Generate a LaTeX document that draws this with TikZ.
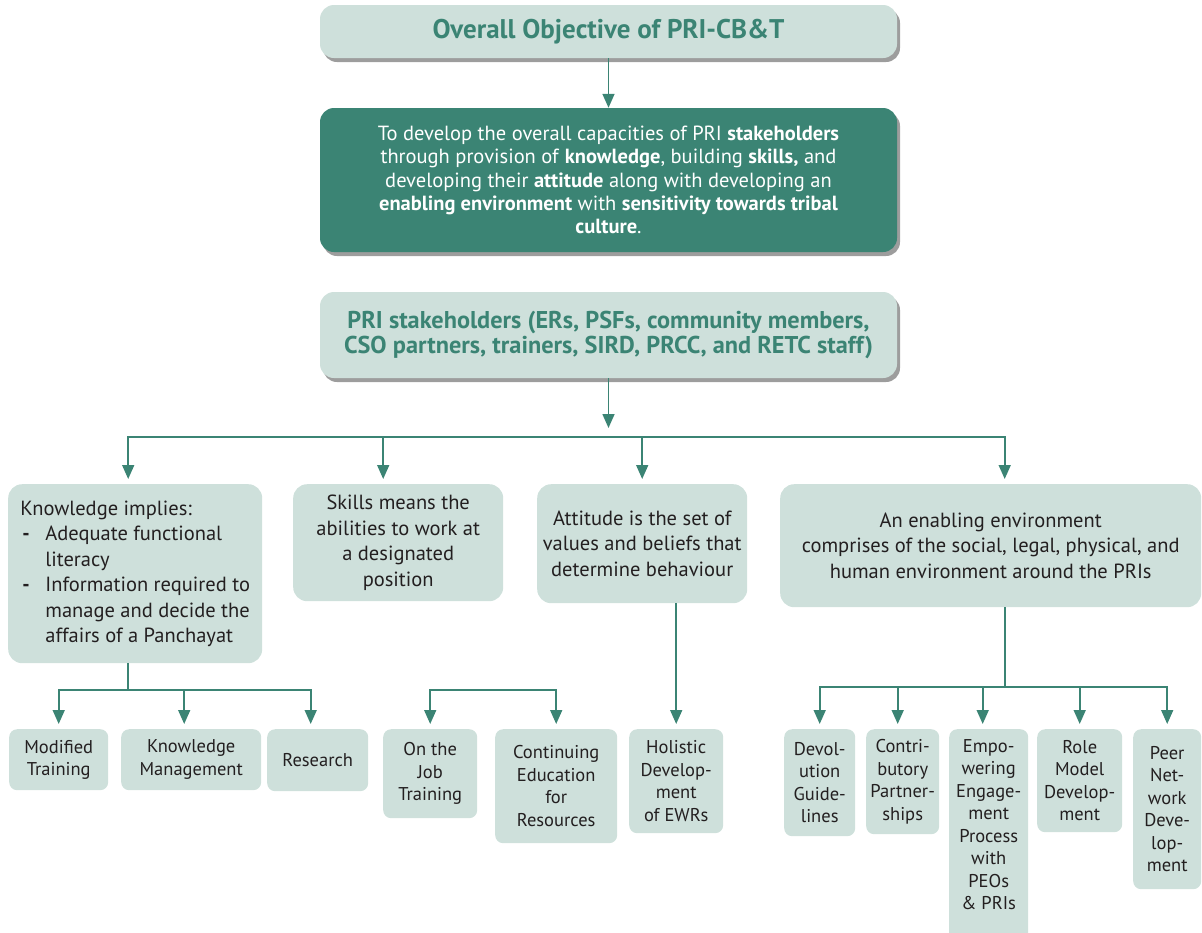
\documentclass[tikz,border=0pt]{standalone}
\usepackage{fontspec}
\setmainfont{PT Sans}
\usetikzlibrary{arrows.meta,shadows}
\definecolor{tealc}{HTML}{3B8474}
\definecolor{palec}{HTML}{CEE0DB}
\definecolor{inkc}{HTML}{231F20}

\begin{document}
\begin{tikzpicture}[x=1pt,y=-1pt,
  arr/.style={draw=tealc,line width=1.6pt,shorten >=5pt,-{Triangle[length=14pt,width=12pt]}},
  bus/.style={draw=tealc,line width=1.6pt},
  box/.style={fill=palec,rounded corners=14pt,text=inkc,align=center,inner sep=0pt},
  headbox/.style={box,drop shadow={shadow xshift=3pt,shadow yshift=-4pt,fill=black!55,opacity=.7}},
  midbox/.style={box,anchor=north west,font=\fontsize{20.5}{25.5}\selectfont},
  leaf/.style={box,rounded corners=8pt,anchor=north west,font=\fontsize{18.5}{22.5}\selectfont}]

\useasboundingbox (0,0) rectangle (1202,932);

% top of the chart
\node[headbox,minimum width=577,minimum height=53,text=tealc,
  font=\fontsize{27}{30}\selectfont\bfseries] (obj) at (608.5,31.5) {Overall Objective of PRI-CB\&T};
\node[headbox,fill=tealc,text=white,minimum width=577,minimum height=144,
  font=\fontsize{20.5}{23.3}\selectfont] (goal) at (608.5,180)
  {To develop the overall capacities of PRI \textbf{stakeholders}\\
   through provision of \textbf{knowledge}, building \textbf{skills,} and\\
   developing their \textbf{attitude} along with developing an\\
   \textbf{enabling environment} with \textbf{sensitivity towards tribal}\\
   \textbf{culture}.};
\node[headbox,minimum width=577,minimum height=86,text=tealc,
  font=\fontsize{24.3}{25}\selectfont\bfseries] (pri) at (608.5,335)
  {PRI stakeholders (ERs, PSFs, community members,\\ CSO partners, trainers, SIRD, PRCC, and RETC staff)};

% four pillars
\node[midbox,align=left,minimum width=254,minimum height=179] (know) at (8,484)
  {Knowledge implies:\\
   \makebox[25pt][l]{\hspace{2pt}\textbf{-}}Adequate functional\\
   \hspace*{25pt}literacy\\
   \makebox[25pt][l]{\hspace{2pt}\textbf{-}}Information required to\\
   \hspace*{25pt}manage and decide the\\
   \hspace*{25pt}affairs of a Panchayat};
\node[midbox,minimum width=210,minimum height=117] (skl) at (293,484)
  {Skills means the\\ abilities to work at\\ a designated\\ position};
\node[midbox,minimum width=210,minimum height=119] (att) at (537,484)
  {Attitude is the set of\\ values and beliefs that\\ determine behaviour};
\node[midbox,minimum width=421,minimum height=123] (env) at (780,484)
  {An enabling environment\\ comprises of the social, legal, physical, and\\ human environment around the PRIs};

% leaves
\node[leaf,minimum width=99,minimum height=61] (modt) at (9,729) {Modified\\ Training};
\node[leaf,minimum width=140,minimum height=61] (km) at (121,729) {Knowledge\\ Management};
\node[leaf,minimum width=101,minimum height=62] (res) at (267,729) {Research};
\node[leaf,minimum width=94,minimum height=89] (ojt) at (383,729) {On the\\ Job\\ Training};
\node[leaf,minimum width=122,minimum height=114] (cer) at (495,729) {Continuing\\ Education\\ for\\ Resources};
\node[leaf,minimum width=94,minimum height=104] (hol) at (629,729) {Holistic\\ Develop-\\ ment\\ of EWRs};
\node[leaf,minimum width=71,minimum height=107] (dev) at (784,729) {Devol-\\ ution\\ Guide-\\ lines};
\node[leaf,minimum width=73,minimum height=105] (con) at (866,729) {Contri-\\ butory\\ Partner-\\ ships};
\node[leaf,minimum width=79,minimum height=216] (emp) at (949,729)
  {Empo-\\ wering\\ Engage-\\ ment\\ Process\\ with\\ PEOs\\ \& PRIs\\[3pt] \mbox{}};
\node[leaf,minimum width=85,minimum height=103] (rol) at (1037,729) {Role\\ Model\\ Develop-\\ ment};
\node[leaf,minimum width=68,minimum height=160] (peer) at (1133,729) {Peer\\ Net-\\ work\\ Deve-\\ lop-\\ ment};

% connectors
\coordinate (hub) at (608.5,437);
\coordinate (kh) at (128,690);
\coordinate (brk) at (490,690);
\coordinate (eh) at (1005,687);

\draw[arr,shorten >=0pt] (obj) -- (goal);
\draw[arr,shorten >=9pt] (pri) -- (hub);
\draw[arr] (hub) -| ([xshift=-7pt]know.north);
\draw[arr] (hub) -| ([xshift=-15pt]skl.north);
\draw[arr] (hub) -| (att.north);
\draw[arr] (hub) -| ([xshift=14pt]env.north);

\draw[bus] (know.south -| kh) -- (kh);
\draw[arr] (kh) -| (modt.north);
\draw[arr] (kh) -| ([xshift=-7pt]km.north);
\draw[arr] (kh) -| ([xshift=-7pt]res.north);

\draw[arr] (brk) -| (ojt.north);
\draw[arr] (brk) -| (cer.north);
\draw[arr] (att.south -| hol.north) -- (hol.north);

\draw[bus] (env.south -| eh) -- (eh);
\draw[arr] (eh) -| (dev.north);
\draw[arr] (eh) -| ([xshift=-5pt]con.north);
\draw[arr] (eh) -| ([xshift=-6pt]emp.north);
\draw[arr] (eh) -| (rol.north);
\draw[arr] (eh) -| (peer.north);
\end{tikzpicture}
\end{document}
